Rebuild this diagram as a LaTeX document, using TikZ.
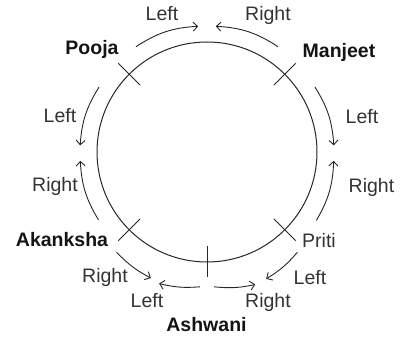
\documentclass[tikz,border=0pt]{standalone}
\usepackage{fontspec}
\setmainfont{Liberation Sans}
\usetikzlibrary{calc,arrows.meta}
\begin{document}
\begin{tikzpicture}[x=1pt,y=1pt,
  lbl/.style={anchor=base, inner sep=0pt, text=black!80, font=\fontsize{19.5}{21}\selectfont},
  person/.style={lbl, text=black!92, font=\fontsize{19.5}{21}\selectfont\bfseries},
  arr/.style={draw=black!85, line width=0.9pt, -{Straight Barb[length=4.5pt,width=9pt]}},
  crossmark/.style={draw=black!85, line width=0.9pt}]
\useasboundingbox (0,0) rectangle (400,337);
\coordinate (C) at (207,185);
\draw[black!85, line width=1pt] (C) circle[radius=110];
% ticks
\foreach \n/\a in {P/135, M/45, A/225, R/315, S/270}{
  \coordinate (\n a) at ($(C)+(\a:94.5)$);
  \coordinate (\n b) at ($(C)+(\a:125.5)$);
}
\draw[crossmark] (Pa) -- (Pb);
\draw[crossmark] (Ma) -- (Mb);
\draw[crossmark] (Aa) -- (Ab);
\draw[crossmark] (Ra) -- (Rb);
\draw[crossmark] (Sa) -- (Sb);
% arrow endpoints
\coordinate (t1s) at ($(C)+(124:127)$); \coordinate (t1e) at ($(C)+(94:126)$);
\coordinate (t2s) at ($(C)+(56:127)$);  \coordinate (t2e) at ($(C)+(86:126)$);
\coordinate (l1s) at ($(C)+(149:126)$); \coordinate (l1e) at ($(C)+(177:127)$);
\coordinate (l2s) at ($(C)+(212:128)$); \coordinate (l2e) at ($(C)+(184:127)$);
\coordinate (r1s) at ($(C)+(31:126)$);  \coordinate (r1e) at ($(C)+(3:127)$);
\coordinate (r2s) at ($(C)+(-32:129)$); \coordinate (r2e) at ($(C)+(-4:127)$);
\coordinate (b1s) at ($(C)+(228:135)$); \coordinate (b1e) at ($(C)+(246:138)$);
\coordinate (b2s) at ($(C)+(267:135)$); \coordinate (b2e) at ($(C)+(250:140)$);
\coordinate (b3s) at ($(C)+(273:135)$); \coordinate (b3e) at ($(C)+(290:141)$);
\coordinate (b4s) at ($(C)+(312:135)$); \coordinate (b4e) at ($(C)+(295:140)$);
\draw[arr] (t1s) to[bend left=15] (t1e);
\draw[arr] (t2s) to[bend right=15] (t2e);
\draw[arr] (l1s) to[bend right=14] (l1e);
\draw[arr] (l2s) to[bend left=14] (l2e);
\draw[arr] (r1s) to[bend left=14] (r1e);
\draw[arr] (r2s) to[bend right=14] (r2e);
\draw[arr] (b1s) to[bend right=9] (b1e);
\draw[arr] (b2s) to[bend left=9] (b2e);
\draw[arr] (b3s) to[bend right=9] (b3e);
\draw[arr] (b4s) to[bend left=9] (b4e);
% labels
\node[lbl] (tl) at (162,316.5) {Left};
\node[lbl] (tr) at (268,316.5) {Right};
\node[person] (pooja) at (92,282.5) {Pooja};
\node[person] (manjeet) at (339,279) {Manjeet};
\node[lbl] (ll) at (60,214) {Left};
\node[lbl] (lr) at (55,145.5) {Right};
\node[lbl] (rl) at (362,213) {Left};
\node[lbl] (rr) at (371.5,144.5) {Right};
\node[person] (akanksha) at (62,90) {Akanksha};
\node[lbl] (priti) at (319,89.5) {Priti};
\node[lbl] (blr) at (105,54) {Right};
\node[lbl] (bll) at (147,29) {Left};
\node[lbl] (brl) at (310,52.5) {Left};
\node[lbl] (brr) at (268,29) {Right};
\node[person] (ashwani) at (206.5,5.5) {Ashwani};
\end{tikzpicture}
\end{document}
